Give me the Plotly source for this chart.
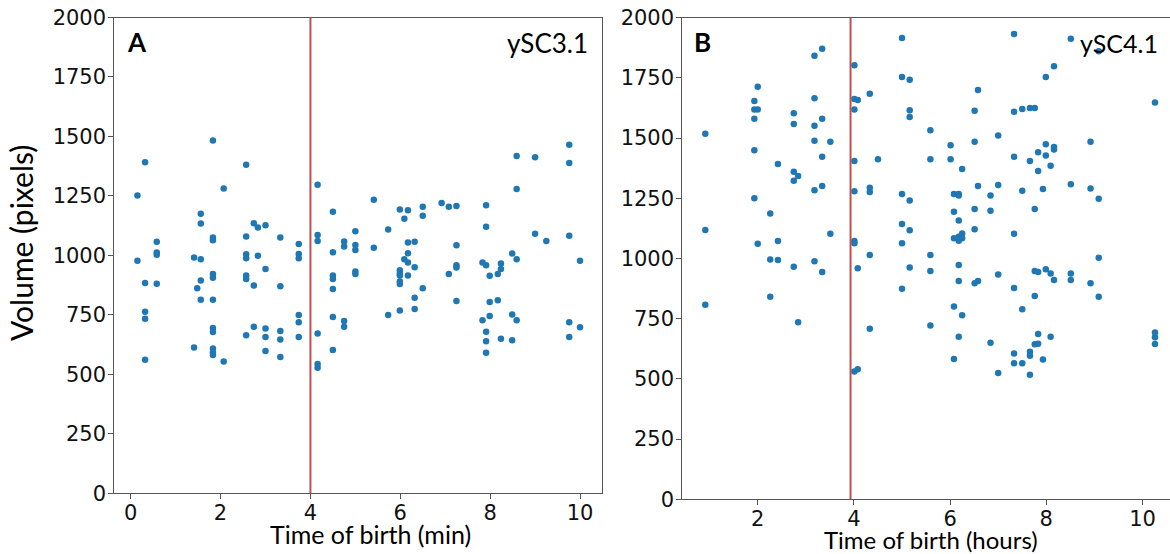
import plotly.graph_objects as go

# ---------------- data ----------------
# Panel A: ySC3.1, time of birth (min) vs volume (pixels)
a_time = [
    0.15, 0.15,
    0.32, 0.32, 0.32, 0.32, 0.32,
    0.58, 0.58, 0.58, 0.58,
    1.41, 1.41,
    1.48,
    1.56, 1.56, 1.56, 1.56, 1.56,
    1.83, 1.83, 1.83, 1.83, 1.83, 1.83, 1.83, 1.83, 1.83, 1.83, 1.83,
    2.07, 2.07,
    2.57, 2.57, 2.57, 2.57, 2.57, 2.57, 2.57,
    2.74, 2.74, 2.74,
    2.83, 2.83,
    3.00, 3.00, 3.00, 3.00, 3.00,
    3.33, 3.33, 3.33, 3.33, 3.33,
    3.74, 3.74, 3.74, 3.74, 3.74, 3.74,
    4.16, 4.16, 4.16, 4.16, 4.16, 4.16,
    4.50, 4.50, 4.50, 4.50, 4.50, 4.50, 4.50,
    4.75, 4.75, 4.75, 4.75,
    5.00, 5.00, 5.00, 5.00, 5.00,
    5.41, 5.41,
    5.73, 5.73,
    5.99, 5.99, 5.99, 5.99, 5.99, 5.99, 5.99,
    6.09, 6.09,
    6.17, 6.17, 6.17, 6.17, 6.17,
    6.32, 6.32, 6.32, 6.32,
    6.50, 6.50, 6.50,
    6.92,
    7.08, 7.08,
    7.25, 7.25, 7.25, 7.25, 7.25,
    7.83, 7.83,
    7.91, 7.91, 7.91, 7.91, 7.91, 7.91,
    7.99, 7.99, 7.99,
    8.17, 8.17,
    8.24, 8.24, 8.24,
    8.49, 8.49, 8.49,
    8.59, 8.59, 8.59, 8.59,
    9.00, 9.00,
    9.25,
    9.76, 9.76, 9.76, 9.76, 9.76,
    10.00, 10.00,
]
a_volume = [
    1252, 977,
    1392, 884, 763, 734, 561,
    1057, 1012, 1003, 881,
    991, 613,
    862,
    1175, 1134, 984, 895, 814,
    1483, 1075, 1064, 922, 906, 814, 695, 678, 609, 592, 581,
    1281, 554,
    1381, 1079, 1005, 988, 915, 901, 664,
    1135, 873, 700,
    1117, 999,
    1127, 943, 693, 657, 598,
    1075, 870, 682, 646, 573,
    1048, 1006, 988, 749, 719, 657,
    1297, 1086, 1061, 672, 543, 528,
    1183, 1013, 915, 901, 859, 741, 602,
    1058, 1037, 724, 700,
    1102, 1044, 1023, 932, 922,
    1234, 1032,
    1109, 749,
    1193, 938, 925, 915, 890, 880, 768,
    1154, 984,
    1190, 1054, 1009, 970, 915,
    1057, 950, 822, 775,
    1204, 1167, 862,
    1220,
    1205, 922,
    1208, 1043, 959, 949, 808,
    970, 727,
    1211, 1120, 959, 679, 639, 591,
    914, 804, 745,
    922, 811,
    966, 943, 650,
    1008, 752, 643,
    1418, 1279, 984, 727,
    1413, 1091,
    1061,
    1465, 1388, 1083, 719, 657,
    977, 698,
]

# Panel B: ySC4.1, time of birth (hours) vs volume (pixels)
b_time = [
    0.91, 0.91, 0.91,
    1.93, 1.93, 1.93, 1.93, 1.93,
    2.00, 2.00, 2.00,
    2.26, 2.26, 2.26,
    2.42, 2.42, 2.42,
    2.75, 2.75, 2.75, 2.75, 2.75,
    2.84, 2.84,
    3.18, 3.18, 3.18, 3.18, 3.18, 3.18,
    3.34, 3.34, 3.34, 3.34, 3.34,
    3.51, 3.51,
    4.01, 4.01, 4.01, 4.01, 4.01, 4.01, 4.01, 4.01,
    4.08, 4.08, 4.08,
    4.33, 4.33, 4.33, 4.33, 4.33,
    4.50,
    5.00, 5.00, 5.00, 5.00, 5.00, 5.00,
    5.16, 5.16, 5.16, 5.16, 5.16, 5.16,
    5.59, 5.59, 5.59, 5.59, 5.59,
    6.01, 6.01,
    6.08, 6.08, 6.08, 6.08, 6.08,
    6.18, 6.18, 6.18, 6.18, 6.18, 6.18, 6.18, 6.18,
    6.25, 6.25, 6.25, 6.25,
    6.51, 6.51, 6.51, 6.51, 6.51,
    6.58, 6.58, 6.58,
    6.84, 6.84, 6.84,
    7.00, 7.00, 7.00, 7.00,
    7.33, 7.33, 7.33, 7.33, 7.33, 7.33, 7.33,
    7.50, 7.50, 7.50, 7.50,
    7.66, 7.66, 7.66, 7.66, 7.66,
    7.76, 7.76, 7.76, 7.76, 7.76,
    7.83, 7.83, 7.83, 7.83, 7.83,
    7.93, 7.93,
    7.99, 7.99, 7.99, 7.99,
    8.09, 8.09, 8.09,
    8.16, 8.16, 8.16, 8.16,
    8.51, 8.51, 8.51, 8.51,
    8.92, 8.92, 8.92,
    9.09, 9.09, 9.09, 9.09,
    10.26, 10.26, 10.26, 10.26,
]
b_volume = [
    1518, 1118, 808,
    1654, 1618, 1580, 1449, 1250,
    1713, 1618, 1061,
    1187, 996, 841,
    1392, 1072, 994,
    1603, 1558, 1360, 1323, 966,
    1342, 735,
    1842, 1665, 1551, 1489, 1283, 988,
    1871, 1580, 1422, 1301, 944,
    1485, 1103,
    1802, 1662, 1618, 1405, 1279, 1072, 1063, 531,
    1658, 959, 540,
    1684, 1294, 1276, 1014, 708,
    1412,
    1915, 1753, 1268, 1143, 1063, 874,
    1742, 1615, 1587, 1241, 1117, 962,
    1532, 1412, 1014, 948, 722,
    1470, 1412,
    1268, 1194, 1084, 800, 583,
    1268, 1261, 1158, 1090, 1074, 973, 906, 675,
    1371, 1104, 1084, 764,
    1613, 1485, 1205, 1121, 897,
    1699, 1301, 906,
    1261, 1198, 650,
    1510, 1305, 933, 524,
    1932, 1609, 1422, 1103, 877, 605, 565,
    1621, 1281, 789, 565,
    1625, 1405, 613, 596, 517,
    1625, 1205, 948, 844, 644,
    1441, 1363, 944, 686, 646,
    1288, 580,
    1753, 1474, 1427, 955,
    1385, 937, 675,
    1798, 1463, 1452, 911,
    1912, 1308, 937, 911,
    1485, 1290, 897,
    1860, 1248, 1003, 841,
    1647, 693, 673, 645,
]

y_ticks = [0, 250, 500, 750, 1000, 1250, 1500, 1750, 2000]
x_ticks = [0, 2, 4, 6, 8, 10]
threshold_a = 4.0
threshold_b = 3.93

# ---------------- styling ----------------
W, H = 1170, 554
DOT = "#1f77b4"
RED = "#c0504d"
SPINE = "#555555"
TICK_FONT = dict(family="DejaVu Sans", size=21, color="#111111")
LABEL_FONT = "Lato"


def px_x(p):
    return p / W


def px_y(p):
    return 1 - p / H


fig = go.Figure()

fig.add_trace(go.Scatter(
    x=a_time, y=a_volume, mode="markers", xaxis="x", yaxis="y",
    marker=dict(color=DOT, size=6.5, line=dict(width=0)), showlegend=False,
))
fig.add_trace(go.Scatter(
    x=b_time, y=b_volume, mode="markers", xaxis="x2", yaxis="y2",
    marker=dict(color=DOT, size=6.5, line=dict(width=0)), showlegend=False,
))

axis_common = dict(
    showgrid=False, zeroline=False, showline=True, linecolor=SPINE, linewidth=1,
    ticks="outside", ticklen=5, tickwidth=1, tickcolor=SPINE, tickfont=TICK_FONT,
    automargin=False,
)
x_extra = dict(ticklabelstandoff=-5)
y_extra = dict(ticklabelstandoff=-2)

fig.update_layout(
    template="none",
    width=W, height=H, autosize=False,
    margin=dict(l=0, r=0, t=0, b=0, pad=0, autoexpand=False),
    paper_bgcolor="white", plot_bgcolor="white",
    xaxis=dict(domain=[px_x(114.3), px_x(602.3)], range=[-0.365, 10.496],
               tickvals=x_ticks, mirror=True, anchor="y", **axis_common, **x_extra),
    yaxis=dict(domain=[px_y(493.3), px_y(17.5)], range=[0, 2000],
               tickvals=y_ticks, mirror=True, anchor="x", **axis_common, **y_extra),
    xaxis2=dict(domain=[px_x(682.3), 1.0], range=[0.432, 10.572],
                tickvals=x_ticks, mirror=True, anchor="y2", **axis_common, **x_extra),
    yaxis2=dict(domain=[px_y(499.3), px_y(17.6)], range=[0, 2000],
                tickvals=y_ticks, mirror=False, anchor="x2", **axis_common, **y_extra),
)

fig.add_shape(type="line", xref="x", yref="y domain", x0=threshold_a, x1=threshold_a,
              y0=0, y1=1, line=dict(color=RED, width=2))
fig.add_shape(type="line", xref="x2", yref="y2 domain", x0=threshold_b, x1=threshold_b,
              y0=0, y1=1, line=dict(color=RED, width=2))

annotations = [
    dict(text="<b>A</b>", x=px_x(125), y=px_y(42), xanchor="left", yanchor="middle",
         font=dict(family=LABEL_FONT, size=26, color="black")),
    dict(text="ySC3.1", x=px_x(590), y=px_y(43), xanchor="right", yanchor="middle",
         font=dict(family=LABEL_FONT, size=26, color="black")),
    dict(text="<b>B</b>", x=px_x(692), y=px_y(42), xanchor="left", yanchor="middle",
         font=dict(family=LABEL_FONT, size=26, color="black")),
    dict(text="ySC4.1", x=px_x(1160), y=px_y(43), xanchor="right", yanchor="middle",
         font=dict(family=LABEL_FONT, size=25, color="black")),
    dict(text="Time of birth (min)", x=px_x(370), y=px_y(534), xanchor="center", yanchor="middle",
         font=dict(family=LABEL_FONT, size=25, color="black")),
    dict(text="Time of birth (hours)", x=px_x(931), y=px_y(539), xanchor="center", yanchor="middle",
         font=dict(family=LABEL_FONT, size=24, color="black")),
    dict(text="Volume (pixels)", x=px_x(21), y=px_y(243), xanchor="center", yanchor="middle",
         textangle=-90, font=dict(family=LABEL_FONT, size=30, color="black")),
]
for a in annotations:
    a.update(xref="paper", yref="paper", showarrow=False)
fig.update_layout(annotations=annotations)

fig.write_html(
    "out.html",
    config={"displayModeBar": False},
    post_script="document.body.style.margin='0';document.body.style.overflow='hidden';",
)
